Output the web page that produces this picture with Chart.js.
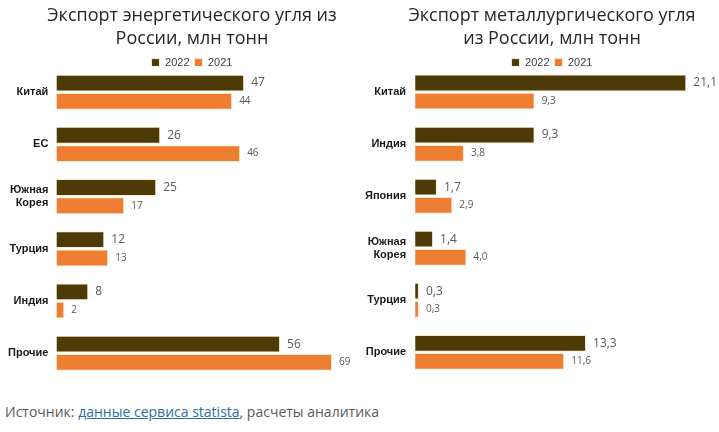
<!DOCTYPE html>
<html>
<head>
<meta charset="utf-8">
<script src="https://cdn.jsdelivr.net/npm/chart.js@4"></script>
<style>
  body { margin: 0; background: #fff; width: 719px; height: 432px; position: relative; overflow: hidden; font-family: "Open Sans", sans-serif; }
  .box { position: absolute; top: 0; height: 394px; }
  #left { left: 0px; width: 384px; }
  #right { left: 356px; width: 392px; }
  .src { position: absolute; left: 5px; top: 402px; font-size: 14px; color: #595959; }
  .src a { color: #2e6ca5; text-decoration: underline; }
</style>
</head>
<body>
<div class="box" id="left"><canvas id="energy"></canvas></div>
<div class="box" id="right"><canvas id="metal"></canvas></div>
<div class="src">Источник: <a href="#">данные сервиса statista</a>, расчеты аналитика</div>
<script>
const yearLabels = ['2022', '2021']

const energyCountries = [['Китай'], ['ЕС'], ['Южная', 'Корея'], ['Турция'], ['Индия'], ['Прочие']]
const energy2022 = [47, 26, 25, 12, 8, 56]
const energy2021 = [44, 46, 17, 13, 2, 69]

const metalCountries = [['Китай'], ['Индия'], ['Япония'], ['Южная', 'Корея'], ['Турция'], ['Прочие']]
const metal2022 = [21.1, 9.3, 1.7, 1.4, 0.3, 13.3]
const metal2021 = [9.3, 3.8, 2.9, 4.0, 0.3, 11.6]

const colors = ['#4d3b07', '#ed7d31']

// value labels at the end of each bar
const valueLabels = {
  id: 'valueLabels',
  afterDatasetsDraw(chart) {
    const ctx = chart.ctx
    const digits = chart.options.plugins.valueLabels.digits
    chart.data.datasets.forEach((ds, i) => {
      const meta = chart.getDatasetMeta(i)
      meta.data.forEach((bar, j) => {
        const txt = ds.data[j].toFixed(digits).replace('.', ',')
        ctx.save()
        ctx.fillStyle = '#595959'
        ctx.font = (i === 0 ? '12px' : '10px') + ' "Open Sans", sans-serif'
        ctx.textBaseline = 'middle'
        ctx.fillText(txt, bar.x + 7, bar.y)
        ctx.restore()
      })
    })
  }
}

// legend sits tight on top of the bars
const tightLegend = {
  id: 'tightLegend',
  beforeInit(chart) {
    const fit = chart.legend.fit
    chart.legend.fit = function () {
      fit.bind(chart.legend)()
      this.height -= 12
    }
  }
}

function makeChart(id, titleLines, labels, d2022, d2021, max, digits, tickPad) {
  new Chart(document.getElementById(id), {
    type: 'bar',
    data: {
      labels: labels,
      datasets: [
        { label: yearLabels[0], data: d2022, backgroundColor: colors[0], borderColor: '#fbe8c8', borderWidth: 1, categoryPercentage: 0.7, barPercentage: 0.92 },
        { label: yearLabels[1], data: d2021, backgroundColor: colors[1], borderColor: '#fbe8c8', borderWidth: 1, categoryPercentage: 0.7, barPercentage: 0.92 }
      ]
    },
    options: {
      indexAxis: 'y',
      responsive: true,
      maintainAspectRatio: false,
      animation: false,
      layout: { padding: { left: 0, right: 0, bottom: 4 } },
      plugins: {
        valueLabels: { digits: digits },
        title: {
          display: true,
          text: titleLines,
          color: '#262626',
          font: { family: '"Open Sans", sans-serif', size: 18, weight: 'normal', lineHeight: 1.28 },
          padding: { top: 4, bottom: 2 }
        },
        legend: {
          display: true,
          labels: { boxWidth: 8, boxHeight: 8, color: '#404040', font: { size: 11 }, padding: 5 }
        },
        tooltip: { enabled: false }
      },
      scales: {
        x: { display: false, min: 0, max: max },
        y: {
          grid: { display: false, drawTicks: false },
          border: { display: false },
          ticks: { color: '#1a1a1a', font: { size: 11, weight: 'bold' }, padding: tickPad }
        }
      }
    },
    plugins: [tightLegend, valueLabels]
  })
}

makeChart('energy', ['Экспорт энергетического угля из', 'России, млн тонн'], energyCountries, energy2022, energy2021, 82, 0, 8)
makeChart('metal', ['Экспорт металлургического угля', 'из России, млн тонн'], metalCountries, metal2022, metal2021, 25.9, 1, 9)
</script>
</body>
</html>
